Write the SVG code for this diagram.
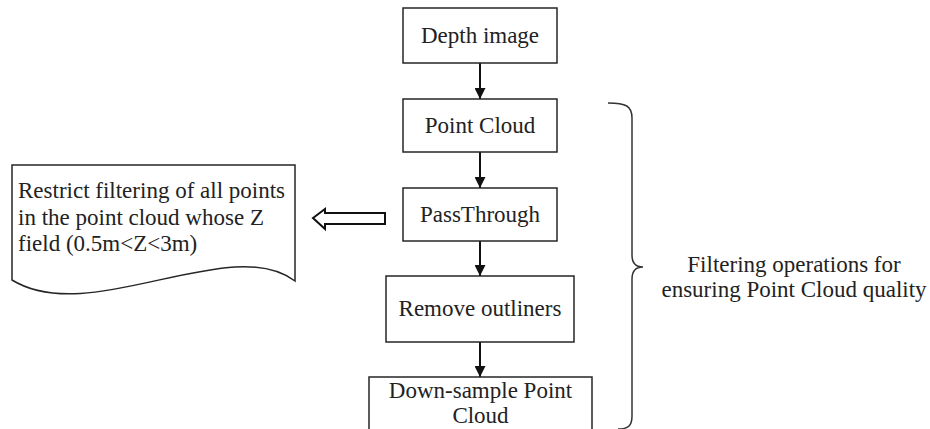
<svg xmlns="http://www.w3.org/2000/svg" width="930" height="429" viewBox="0 0 930 429">
<style>
.box{fill:#fff;stroke:#262626;stroke-width:1.5}
.t{font-family:"Liberation Serif","Times New Roman",serif;font-size:23px;fill:#222}
.c{text-anchor:middle}
.conn{stroke:#111;stroke-width:2;fill:none}
</style>
<defs>
<marker id="ah" viewBox="0 0 10 10" refX="10" refY="5" markerWidth="5.5" markerHeight="5.5" markerUnits="strokeWidth" orient="auto">
<path d="M0,0 L10,5 L0,10 Z" fill="#111"/>
</marker>
</defs>
<rect width="930" height="429" fill="#fff"/>
<g id="connectors">
<line class="conn" x1="480" y1="63" x2="480" y2="99" marker-end="url(#ah)"/>
<line class="conn" x1="480" y1="152" x2="480" y2="188" marker-end="url(#ah)"/>
<line class="conn" x1="480" y1="241" x2="480" y2="276" marker-end="url(#ah)"/>
<line class="conn" x1="480" y1="342" x2="480" y2="377" marker-end="url(#ah)"/>
<polygon id="hollow-arrow" points="313,218 325,209 325,213 385,213 385,224 325,224 325,229" fill="#fff" stroke="#111" stroke-width="2" stroke-linejoin="miter"/>
</g>
<g id="depth">
<rect class="box" x="403" y="8" width="154" height="55"/>
<text class="t c" x="480" y="43">Depth image</text>
</g>
<g id="pointcloud">
<rect class="box" x="403" y="99" width="154" height="53"/>
<text class="t c" x="480" y="133">Point Cloud</text>
</g>
<g id="passthrough">
<rect class="box" x="403" y="188" width="154" height="53"/>
<text class="t c" x="480" y="222">PassThrough</text>
</g>
<g id="remove">
<rect class="box" x="386" y="276" width="188" height="66"/>
<text class="t c" x="480" y="316">Remove outliners</text>
</g>
<g id="downsample">
<rect class="box" x="369" y="377" width="223" height="70"/>
<text class="t c" x="480.5" y="398">Down-sample Point</text>
<text class="t c" x="480.5" y="423">Cloud</text>
</g>
<g id="note">
<path class="box" d="M12,165 L295,165 L295,281 C230,232 90,328 12,280 Z"/>
<text class="t" x="18" y="198">Restrict filtering of all points</text>
<text class="t" x="18" y="224.5">in the point cloud whose Z</text>
<text class="t" x="18" y="251">field (0.5m&lt;Z&lt;3m)</text>
</g>
<g id="brace">
<path d="M608,103 C626,103 632,106 632,118 L632,255 C632,263 636,267 643,267 C636,267 632,271 632,279 L632,416 C632,426 628,429 618,429" fill="none" stroke="#333" stroke-width="1.5"/>
<text class="t c" x="794" y="272">Filtering operations for</text>
<text class="t c" x="794" y="297">ensuring Point Cloud quality</text>
</g>
</svg>
